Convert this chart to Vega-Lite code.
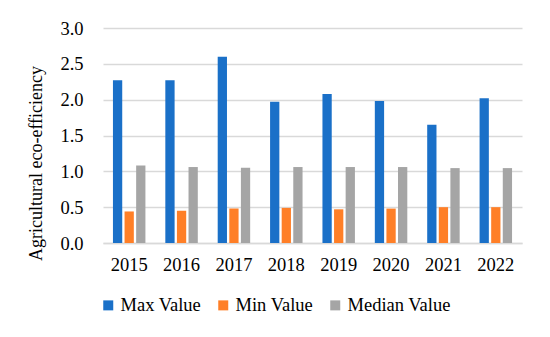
{
  "$schema": "https://vega.github.io/schema/vega-lite/v6.json",
  "autosize": "none",
  "width": 419,
  "height": 215,
  "padding": {"left": 103, "top": 28, "right": 28, "bottom": 94},
  "background": "white",
  "data": {
    "values": [
      {"year": "2015", "series": "Max Value", "value": 2.27},
      {"year": "2016", "series": "Max Value", "value": 2.27},
      {"year": "2017", "series": "Max Value", "value": 2.60},
      {"year": "2018", "series": "Max Value", "value": 1.97},
      {"year": "2019", "series": "Max Value", "value": 2.08},
      {"year": "2020", "series": "Max Value", "value": 1.98},
      {"year": "2021", "series": "Max Value", "value": 1.65},
      {"year": "2022", "series": "Max Value", "value": 2.02},
      {"year": "2015", "series": "Min Value", "value": 0.44},
      {"year": "2016", "series": "Min Value", "value": 0.45},
      {"year": "2017", "series": "Min Value", "value": 0.48},
      {"year": "2018", "series": "Min Value", "value": 0.49},
      {"year": "2019", "series": "Min Value", "value": 0.47},
      {"year": "2020", "series": "Min Value", "value": 0.48},
      {"year": "2021", "series": "Min Value", "value": 0.50},
      {"year": "2022", "series": "Min Value", "value": 0.50},
      {"year": "2015", "series": "Median Value", "value": 1.08},
      {"year": "2016", "series": "Median Value", "value": 1.06},
      {"year": "2017", "series": "Median Value", "value": 1.05},
      {"year": "2018", "series": "Median Value", "value": 1.06},
      {"year": "2019", "series": "Median Value", "value": 1.06},
      {"year": "2020", "series": "Median Value", "value": 1.06},
      {"year": "2021", "series": "Median Value", "value": 1.045},
      {"year": "2022", "series": "Median Value", "value": 1.045}
    ]
  },
  "mark": {"type": "bar"},
  "encoding": {
    "x": {
      "field": "year", "type": "nominal",
      "scale": {"paddingInner": 0.38, "paddingOuter": 0.19},
      "axis": {"title": null, "labelAngle": 0, "ticks": false, "domain": true, "domainColor": "#d9d9d9", "domainWidth": 1.5, "labelPadding": 12, "labelFont": "Liberation Serif", "labelFontSize": 18.5, "labelColor": "#000"}
    },
    "xOffset": {
      "field": "series", "type": "nominal",
      "sort": ["Max Value", "Min Value", "Median Value"],
      "scale": {"paddingInner": 0.2}
    },
    "y": {
      "field": "value", "type": "quantitative",
      "scale": {"domain": [0, 3]},
      "axis": {"title": "Agricultural eco-efficiency", "titleFont": "Liberation Serif", "titleFontSize": 18, "titleFontWeight": "normal", "titleColor": "#000", "titlePadding": 14, "titleY": 135, "values": [0, 0.5, 1, 1.5, 2, 2.5, 3], "format": ".1f", "ticks": false, "domain": false, "labelPadding": 20, "labelFont": "Liberation Serif", "labelFontSize": 18.5, "labelColor": "#000", "gridColor": "#d9d9d9", "gridWidth": 1.5}
    },
    "color": {
      "field": "series", "type": "nominal",
      "sort": ["Max Value", "Min Value", "Median Value"],
      "scale": {"domain": ["Max Value", "Min Value", "Median Value"], "range": ["#1a70c8", "#ff7f27", "#a5a5a5"]},
      "legend": {"title": null, "orient": "none", "direction": "horizontal", "legendX": -4, "legendY": 268, "symbolType": "square", "symbolSize": 100, "symbolStrokeWidth": 0, "labelFont": "Liberation Serif", "labelFontSize": 18.5, "labelColor": "#000", "columnPadding": 12, "labelOffset": 3, "labelLimit": 200}
    }
  },
  "config": {"view": {"stroke": null}, "font": "Liberation Serif", "legend": {"labelFont": "Liberation Serif"}}
}
